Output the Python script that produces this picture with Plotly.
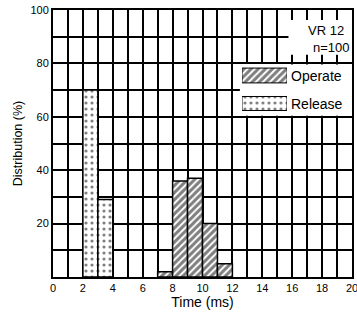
import plotly.graph_objects as go

# ---- data ----
x_tick_vals = list(range(0, 21, 2))
y_tick_vals = [20, 40, 60, 80, 100]

operate_bins = [7, 8, 9, 10, 11]      # bin start (ms), bin width 1 ms
operate_pct = [2, 36, 37, 20, 5]
release_bins = [2, 3]
release_pct = [70, 29]

legend_labels = ["Operate", "Release"]
note_lines = ["VR 12", "n=100"]

FONT = "Liberation Sans"

hatch = dict(shape="/", fgcolor="black", bgcolor="white", size=5, solidity=0.6)
dots = dict(shape=".", fgcolor="black", bgcolor="white", size=6, solidity=0.22)
edge = dict(color="black", width=1.5)

fig = go.Figure()
fig.add_bar(x=release_bins, y=release_pct, width=1, offset=0, name=legend_labels[1],
            marker=dict(color="white", line=edge, pattern=dots), showlegend=False)
fig.add_bar(x=operate_bins, y=operate_pct, width=1, offset=0, name=legend_labels[0],
            marker=dict(color="white", line=edge, pattern=hatch), showlegend=False)

# legend swatches (drawn in a small helper subplot)
fig.add_bar(x=[1], y=[legend_labels[0]], orientation="h", width=0.53, base=0,
            xaxis="x2", yaxis="y2", showlegend=False, hoverinfo="skip",
            marker=dict(color="white", line=dict(color="black", width=1), pattern=hatch))
fig.add_bar(x=[1], y=[legend_labels[1]], orientation="h", width=0.5, base=0,
            xaxis="x2", yaxis="y2", showlegend=False, hoverinfo="skip",
            marker=dict(color="white", line=dict(color="black", width=1), pattern=dots))

fig.update_layout(
    width=357, height=314,
    margin=dict(l=53, r=5, t=10, b=37),
    paper_bgcolor="white", plot_bgcolor="white",
    barmode="overlay",
    font=dict(family=FONT, color="black", size=11),
    xaxis=dict(
        range=[0, 20], tickmode="array", tickvals=x_tick_vals,
        showgrid=True, gridcolor="black", gridwidth=1.5,
        minor=dict(dtick=1, tick0=0, showgrid=True, gridcolor="black", gridwidth=1.5),
        zeroline=False, showline=True, mirror=True, linecolor="black", linewidth=2,
        ticks="", tickfont=dict(size=11), ticklabeloverflow="allow",
        title=dict(text="Time (ms)", font=dict(size=14), standoff=1),
        automargin=False, fixedrange=True,
    ),
    yaxis=dict(
        range=[0, 100], tickmode="array", tickvals=y_tick_vals,
        showgrid=True, gridcolor="black", gridwidth=1.5,
        minor=dict(dtick=10, tick0=0, showgrid=True, gridcolor="black", gridwidth=1.5),
        zeroline=False, showline=True, mirror=True, linecolor="black", linewidth=2,
        ticks="", tickfont=dict(size=11), ticklabeloverflow="allow",
        title=dict(text="Distribution (%)", font=dict(size=12.5), standoff=5),
        automargin=False, fixedrange=True,
    ),
    xaxis2=dict(domain=[0.632, 0.783], range=[0, 1], visible=False, anchor="y2",
                fixedrange=True),
    yaxis2=dict(domain=[0.6105, 0.7978], range=[1.375, -0.411], visible=False,
                anchor="x2", type="category", fixedrange=True),
    shapes=[
        dict(type="rect", xref="x", yref="y", x0=12.5, x1=20, y0=60.4, y1=79.6,
             fillcolor="white", line=dict(width=0), layer="between"),
        dict(type="rect", xref="x", yref="y", x0=15.75, x1=20, y0=83.2, y1=96.3,
             fillcolor="white", line=dict(width=0), layer="between"),
    ],
    annotations=[
        dict(text=legend_labels[0], xref="paper", yref="paper", x=0.79, y=0.752,
             xanchor="left", yanchor="middle", showarrow=False, font=dict(size=14)),
        dict(text=legend_labels[1], xref="paper", yref="paper", x=0.79, y=0.647,
             xanchor="left", yanchor="middle", showarrow=False, font=dict(size=14)),
        dict(text=note_lines[0], xref="paper", yref="paper", x=0.913, y=0.923,
             xanchor="center", yanchor="middle", showarrow=False, font=dict(size=13)),
        dict(text=note_lines[1], xref="paper", yref="paper", x=0.933, y=0.861,
             xanchor="center", yanchor="middle", showarrow=False, font=dict(size=13)),
    ],
)

fig.write_html("out.html", config={"displayModeBar": False},
               post_script="document.body.style.margin='0';document.body.style.overflow='hidden';")
